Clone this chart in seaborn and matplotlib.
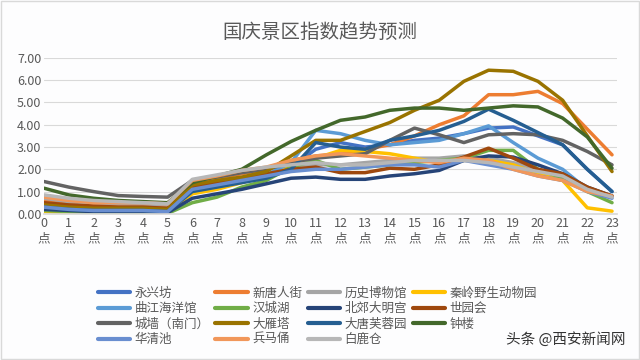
import numpy as np
import pandas as pd
import matplotlib
matplotlib.use("Agg")
import matplotlib.pyplot as plt
import seaborn as sns
from matplotlib.ticker import FormatStrFormatter
from matplotlib.patches import Rectangle

# hours 0..23
hours = list(range(24))
hour_labels = [f"{h}\n点" for h in hours]

spots = ["永兴坊", "新唐人街", "历史博物馆", "秦岭野生动物园",
         "曲江海洋馆", "汉城湖", "北郊大明宫", "世园会",
         "城墙（南门）", "大雁塔", "大唐芙蓉园", "钟楼",
         "华清池", "兵马俑", "白鹿仓"]

colors = ["#4472C4", "#ED7D31", "#A5A5A5", "#FFC000",
          "#5B9BD5", "#70AD47", "#264478", "#9E480E",
          "#636363", "#997300", "#255E91", "#43682B",
          "#698ED0", "#F1975A", "#B7B7B7"]

yongxingfang = [0.35, 0.25, 0.2, 0.2, 0.2, 0.15, 1.2, 1.35, 1.5, 1.7, 2.1, 2.9,
                3.2, 3.0, 3.1, 3.3, 3.4, 3.6, 3.85, 3.9, 3.5, 3.1, 2.0, 1.0]
xintangrenjie = [0.6, 0.5, 0.45, 0.4, 0.4, 0.35, 1.45, 1.6, 1.8, 2.0, 2.4, 2.6,
                 2.7, 2.9, 3.1, 3.5, 4.0, 4.4, 5.35, 5.35, 5.5, 4.95, 3.8, 2.65]
lishi_bowuguan = [0.7, 0.55, 0.5, 0.45, 0.45, 0.4, 1.5, 1.65, 1.9, 2.0, 2.1, 2.2,
                  2.2, 2.3, 2.4, 2.5, 2.5, 2.6, 2.5, 2.3, 2.0, 1.7, 1.1, 0.8]
qinling_zoo = [0.1, 0.05, 0.05, 0.05, 0.05, 0.05, 0.9, 1.1, 1.4, 1.7, 2.1, 2.5,
               2.85, 2.8, 2.7, 2.5, 2.3, 2.4, 2.4, 2.2, 1.8, 1.5, 0.27, 0.12]
qujiang_ocean = [0.25, 0.2, 0.15, 0.15, 0.15, 0.1, 1.1, 1.3, 1.5, 1.75, 2.3, 3.75,
                 3.6, 3.3, 3.1, 3.2, 3.3, 3.6, 3.95, 3.2, 2.5, 2.0, 1.1, 0.8]
hanchenghu = [0.15, 0.1, 0.05, 0.05, 0.05, 0.02, 0.5, 0.75, 1.2, 1.5, 2.1, 2.4,
              2.0, 2.1, 2.2, 2.3, 2.4, 2.5, 2.85, 2.85, 2.0, 1.6, 1.0, 0.5]
daminggong = [0.2, 0.15, 0.1, 0.1, 0.1, 0.05, 0.7, 0.9, 1.1, 1.35, 1.6, 1.65,
              1.55, 1.55, 1.7, 1.8, 1.95, 2.4, 2.6, 2.55, 2.2, 1.8, 1.2, 0.8]
shiyuanhui = [0.5, 0.4, 0.35, 0.3, 0.3, 0.25, 1.2, 1.4, 1.6, 1.8, 2.0, 2.1,
              1.85, 1.85, 2.05, 2.0, 2.2, 2.55, 2.95, 2.5, 2.0, 1.8, 1.2, 0.8]
chengqiang = [1.45, 1.2, 1.0, 0.82, 0.78, 0.75, 1.5, 1.65, 1.85, 2.0, 2.3, 2.5,
              2.6, 2.7, 3.3, 3.85, 3.55, 3.2, 3.55, 3.6, 3.55, 3.3, 2.8, 2.2]
dayanta = [0.4, 0.3, 0.25, 0.25, 0.25, 0.2, 1.3, 1.5, 1.65, 1.9, 2.6, 3.3,
           3.3, 3.7, 4.1, 4.65, 5.1, 5.95, 6.45, 6.4, 5.95, 5.1, 3.5, 1.9]
furongyuan = [0.3, 0.2, 0.15, 0.15, 0.15, 0.1, 1.0, 1.2, 1.4, 1.6, 2.0, 3.2,
              3.0, 2.9, 3.3, 3.5, 3.75, 4.15, 4.7, 4.2, 3.65, 3.1, 2.0, 1.0]
zhonglou = [1.15, 0.85, 0.7, 0.6, 0.55, 0.5, 1.4, 1.7, 2.0, 2.65, 3.25, 3.75,
            4.2, 4.35, 4.65, 4.75, 4.75, 4.65, 4.75, 4.85, 4.8, 4.3, 3.45, 2.05]
huaqingchi = [0.3, 0.2, 0.15, 0.15, 0.15, 0.1, 1.1, 1.3, 1.5, 1.7, 1.9, 2.0,
              2.0, 2.1, 2.2, 2.2, 2.1, 2.4, 2.2, 2.0, 1.7, 1.5, 1.0, 0.7]
bingmayong = [0.75, 0.6, 0.5, 0.5, 0.5, 0.45, 1.5, 1.7, 1.95, 2.1, 2.4, 2.6,
              2.7, 2.6, 2.5, 2.4, 2.3, 2.5, 2.4, 2.0, 1.7, 1.5, 1.0, 0.8]
bailucang = [0.85, 0.7, 0.6, 0.55, 0.5, 0.45, 1.55, 1.75, 1.95, 2.1, 2.2, 2.3,
             2.2, 2.2, 2.3, 2.4, 2.4, 2.4, 2.3, 2.1, 1.9, 1.7, 1.1, 0.75]

series = [yongxingfang, xintangrenjie, lishi_bowuguan, qinling_zoo,
          qujiang_ocean, hanchenghu, daminggong, shiyuanhui,
          chengqiang, dayanta, furongyuan, zhonglou,
          huaqingchi, bingmayong, bailucang]

# long-form table for seaborn
df = pd.DataFrame({
    "hour": np.tile(hours, len(spots)),
    "spot": np.repeat(spots, len(hours)),
    "index": np.concatenate(series),
})

sns.set_theme(style="white")
plt.rcParams['font.family'] = ['Noto Sans CJK SC', 'DejaVu Sans']

fig = plt.figure(figsize=(6.4, 3.6), dpi=100)
fig.patch.set_facecolor("#FDFDFE")
ax = fig.add_axes([0.069, 0.406, 0.895, 0.433])
ax.set_facecolor("#FDFDFE")

sns.lineplot(data=df, x="hour", y="index", hue="spot", hue_order=spots,
             palette=colors, linewidth=2.5, ax=ax)

ax.set_xlim(0, 23.2)
ax.set_ylim(0, 7)
ax.set_yticks(np.arange(0, 8, 1))
ax.yaxis.set_major_formatter(FormatStrFormatter('%.2f'))
ax.set_xticks(hours)
ax.set_xticklabels(hour_labels, linespacing=1.25)
ax.tick_params(axis="both", labelsize=9, colors="#595959", length=0, pad=2)
ax.grid(axis="y", color="#D9D9D9", linewidth=0.8)
ax.set_axisbelow(True)
for s in ["top", "right", "left"]:
    ax.spines[s].set_visible(False)
ax.spines["bottom"].set_color("#D9D9D9")
ax.set_xlabel("")
ax.set_ylabel("")

# Excel-style row-wise legend order
leg = ax.get_legend()
handles = leg.legend_handles
labels = [t.get_text() for t in leg.get_texts()]
order = [0, 4, 8, 12, 1, 5, 9, 13, 2, 6, 10, 14, 3, 7, 11]
leg.remove()
fig.legend([handles[i] for i in order], [labels[i] for i in order],
           ncol=4, loc="upper left", bbox_to_anchor=(0.135, 0.235),
           frameon=False, fontsize=9, handlelength=2.6, handletextpad=0.35,
           columnspacing=0.45, labelspacing=0.2, labelcolor="#595959")
for h in fig.legends[0].legend_handles:
    h.set_linewidth(3)

fig.text(0.5, 0.91, "国庆景区指数趋势预测", ha="center", va="center",
         fontsize=14, color="#595959")
fig.text(0.978, 0.058, "头条 @西安新闻网", ha="right", va="center",
         fontsize=10.5, color="#333333")

fig.patches.append(Rectangle((0.002, 0.004), 0.996, 0.992, transform=fig.transFigure,
                             fill=False, edgecolor="#D9D9D9", linewidth=1))

fig.savefig("out.png", dpi=100)
